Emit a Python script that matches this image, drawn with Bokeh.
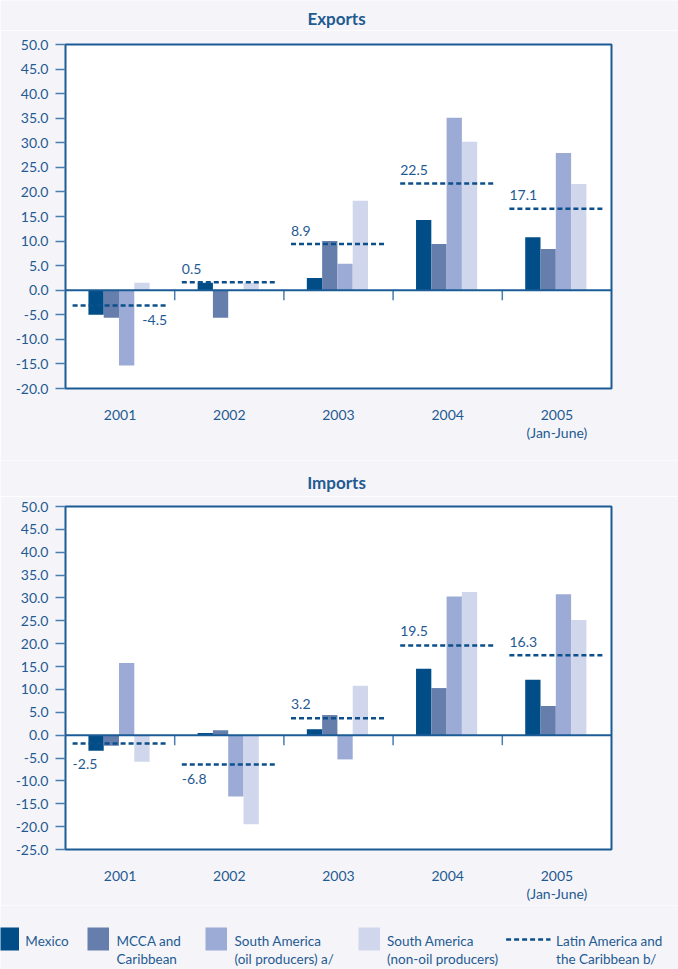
from bokeh.plotting import figure
from bokeh.models import Range1d, FixedTicker, NumeralTickFormatter, ColumnDataSource, Span
from bokeh.layouts import column, row
from bokeh.core.properties import value
from bokeh.embed import file_html
from bokeh.resources import INLINE

# ---------------- data ----------------
years = ["2001", "2002", "2003", "2004", "2005"]
year_labels = ["2001", "2002", "2003", "2004", "2005\n(Jan-June)"]
series_names = ["Mexico", "MCCA and\nCaribbean", "South America\n(oil producers) a/",
                "South America\n(non-oil producers)"]
lac_name = "Latin America and\nthe Caribbean b/"

exp_mexico = [-5.0, 1.5, 2.5, 14.3, 10.8]
exp_mcca = [-5.6, -5.6, 10.0, 9.4, 8.4]
exp_sa_oil = [-15.3, 0.0, 5.4, 35.1, 27.9]
exp_sa_nonoil = [1.5, 1.5, 18.2, 30.2, 21.6]
exp_lac = [-3.1, 1.6, 9.4, 21.7, 16.6]
exp_lac_labels = ["-4.5", "0.5", "8.9", "22.5", "17.1"]

imp_mexico = [-3.4, 0.5, 1.3, 14.5, 12.1]
imp_mcca = [-2.3, 1.1, 4.4, 10.3, 6.4]
imp_sa_oil = [15.8, -13.4, -5.3, 30.3, 30.8]
imp_sa_nonoil = [-5.8, -19.5, 10.8, 31.3, 25.2]
imp_lac = [-1.8, -6.4, 3.7, 19.6, 17.5]
imp_lac_labels = ["-2.5", "-6.8", "3.2", "19.5", "16.3"]

# ---------------- style ----------------
FONT = "Lato"
BG = "#f5f5f9"
TEXT = "#1f5a92"
FRAME = "#1b5b96"
TICK = "#4a7db0"
LAC_COLOR = "#0d4f8b"
COLORS = ["#004d87", "#667eac", "#9cabd6", "#d0d6eb"]

FRAME_W = 546
BORDER_L = 65
BORDER_R = 67
LW = BORDER_L + FRAME_W + BORDER_R
BAR_W = 0.14
BAR_START = 0.28
LINE_X0, LINE_X1 = 0.065, 0.93

# label placement per chart: (align, y offset in px)
exp_label_style = [("right", 15), ("left", -13.5), ("left", -13.5), ("left", -14), ("left", -13.5)]
imp_label_style = [("left", 21), ("left", 15), ("left", -14), ("left", -14.5), ("left", -13.5)]


def strip(height):
    """A borderless figure whose data units are page pixels (y downward)."""
    f = figure(width=LW, height=height, x_range=Range1d(0, LW), y_range=Range1d(height, 0),
               output_backend="svg", toolbar_location=None,
               x_axis_location=None, y_axis_location=None,
               min_border=0, min_border_left=0, min_border_right=0,
               min_border_top=0, min_border_bottom=0)
    f.grid.visible = False
    f.outline_line_color = None
    f.background_fill_color = BG
    f.border_fill_color = BG
    return f


def title_strip(title, height, text_y):
    f = strip(height)
    f.text(x=[BORDER_L + FRAME_W / 2 - 2], y=[text_y], text=[title], text_align="center",
           text_baseline="middle", text_font=value(FONT), text_font_style="bold",
           text_font_size="17px", text_color=TEXT)
    return f


def chart(data, lac, lac_labels, label_style, ystart, yend, frame_h, mb_top, mb_bottom):
    n = len(years)
    p = figure(frame_width=FRAME_W, frame_height=frame_h,
               x_range=Range1d(0, n), y_range=Range1d(ystart, yend),
               output_backend="svg", toolbar_location=None,
               min_border_left=BORDER_L, min_border_right=BORDER_R,
               min_border_top=mb_top, min_border_bottom=mb_bottom)
    p.background_fill_color = "white"
    p.border_fill_color = BG
    p.outline_line_color = FRAME
    p.outline_line_width = 2
    p.xgrid.visible = False
    p.ygrid.visible = False

    # y axis
    ya = p.yaxis[0]
    ya.ticker = FixedTicker(ticks=list(range(int(ystart), int(yend) + 1, 5)))
    ya.formatter = NumeralTickFormatter(format="0.0")
    ya.axis_line_color = None
    ya.major_tick_line_color = TICK
    ya.major_tick_line_width = 1.5
    ya.major_tick_out = 10
    ya.major_tick_in = 0
    ya.minor_tick_line_color = None
    ya.major_label_standoff = 7
    ya.major_label_text_font = FONT
    ya.major_label_text_font_size = "14px"
    ya.major_label_text_color = TEXT

    # x axis
    xa = p.xaxis[0]
    ticks = [i + 0.5 for i in range(n)]
    xa.ticker = FixedTicker(ticks=ticks)
    xa.major_label_overrides = {t: lab for t, lab in zip(ticks, year_labels)}
    xa.axis_line_color = None
    xa.major_tick_line_color = None
    xa.minor_tick_line_color = None
    xa.major_tick_out = 0
    xa.major_label_standoff = 17
    xa.major_label_text_font = FONT
    xa.major_label_text_font_size = "14px"
    xa.major_label_text_color = TEXT
    xa.major_label_text_line_height = 1.1

    # bars
    for k, vals in enumerate(data):
        src = ColumnDataSource(dict(x=[i + BAR_START + BAR_W * k for i in range(n)], top=vals))
        p.vbar(x="x", top="top", bottom=0, width=BAR_W, source=src,
               fill_color=COLORS[k], line_color=None)

    # zero baseline with separator ticks hanging down
    p.add_layout(Span(location=0, dimension="width", line_color=FRAME, line_width=2))
    tick_len = 10 * (yend - ystart) / frame_h
    p.segment(x0=list(range(1, n)), x1=list(range(1, n)), y0=[0] * (n - 1),
              y1=[-tick_len] * (n - 1), line_color=TICK, line_width=1.5)

    # LAC dashed lines
    p.segment(x0=[i + LINE_X0 for i in range(n)], x1=[i + LINE_X1 for i in range(n)],
              y0=lac, y1=lac, line_color=LAC_COLOR, line_width=2.5, line_dash="5 3")

    # LAC labels
    lsrc = ColumnDataSource(dict(
        x=[i + (LINE_X1 if st[0] == "right" else LINE_X0) for i, st in enumerate(label_style)],
        y=lac, text=lac_labels,
        align=[st[0] for st in label_style],
        yoff=[st[1] for st in label_style]))
    p.text(x="x", y="y", text="text", source=lsrc, text_align="align", y_offset="yoff",
           text_baseline="middle", text_font=value(FONT), text_font_size="14px",
           text_color=TEXT)
    return p


t1 = title_strip("Exports", 30, 18)
p1 = chart([exp_mexico, exp_mcca, exp_sa_oil, exp_sa_nonoil], exp_lac,
           exp_lac_labels, exp_label_style, -20, 50, 344, 14, 72)
t2 = title_strip("Imports", 36, 21.5)
p2 = chart([imp_mexico, imp_mcca, imp_sa_oil, imp_sa_nonoil], imp_lac,
           imp_lac_labels, imp_label_style, -25, 50, 343, 10, 56)

# ---------------- legend ----------------
LH = 64
lg = strip(LH)
sq_left = [-3, 87, 205, 358]
sq_w = 21.5
txt_x = [24.8, 116, 234, 386.5]
sq_top, sq_bot = 22, 45
line1_y, line2_y = 35.5, 53.5

lg.quad(left=sq_left, right=[s + sq_w for s in sq_left], top=[sq_top] * 4, bottom=[sq_bot] * 4,
        fill_color=COLORS, line_color=None)
names = series_names + [lac_name]
xs = txt_x + [555.6]
l1, l2, x1s, x2s = [], [], [], []
for nm, x in zip(names, xs):
    parts = nm.split("\n")
    l1.append(parts[0]); x1s.append(x)
    if len(parts) > 1:
        l2.append(parts[1]); x2s.append(x)
lg.text(x=x1s, y=[line1_y] * len(x1s), text=l1, text_baseline="middle", text_align="left",
        text_font=value(FONT), text_font_size="13.5px", text_color=TEXT)
lg.text(x=x2s, y=[line2_y] * len(x2s), text=l2, text_baseline="middle", text_align="left",
        text_font=value(FONT), text_font_size="13.5px", text_color=TEXT)
lg.segment(x0=[505.6], x1=[550], y0=[34], y1=[34], line_color=LAC_COLOR, line_width=2.5,
           line_dash="5 3")

layout = column(row(t1), p1, row(t2), p2, row(lg), spacing=0)
open("out.html", "w").write(file_html(layout, INLINE))
